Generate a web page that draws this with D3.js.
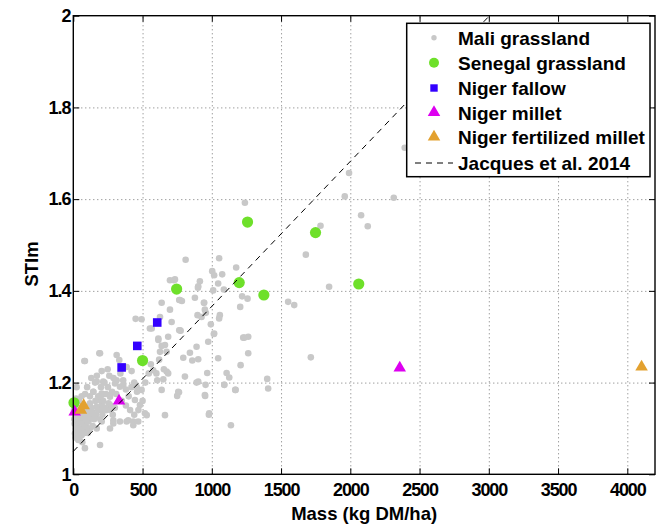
<!DOCTYPE html>
<html>
<head>
<meta charset="utf-8">
<script src="https://cdn.jsdelivr.net/npm/d3@7"></script>
<style>
body { margin: 0; background: #fff; }
text { font-family: "Liberation Sans", Arial, sans-serif; font-weight: bold; fill: #000; }
</style>
</head>
<body>
<div id="chart"></div>
<script>
const width = 665, height = 526;
const margin = {top: 15.7, right: 10, bottom: 51.7, left: 73.3};

const xTicks = [0, 500, 1000, 1500, 2000, 2500, 3000, 3500, 4000];
const yTicks = [1, 1.2, 1.4, 1.6, 1.8, 2];

// Mali grassland [mass, STIm]
const maliGrassland = [
  [193,1.264],[84,1.247],[313,1.26],[248,1.229],[421,1.225],[385,1.234],[626,1.267],[674,1.267],[577,1.227],[674,1.224],
  [606,1.205],[157,1.20],[216,1.202],[313,1.205],[361,1.195],[457,1.191],[493,1.184],[638,1.184],[24,1.19],[144,1.18],
  [205,1.176],[265,1.169],[193,1.162],[120,1.155],[265,1.151],[445,1.162],[481,1.151],[530,1.129],[662,1.129],[120,1.136],
  [205,1.14],[84,1.118],[157,1.125],[205,1.115],[289,1.118],[337,1.115],[397,1.118],[469,1.115],[24,1.107],[48,1.097],
  [12,1.089],[108,1.10],[169,1.10],[265,1.10],[36,1.078],[84,1.057],[193,1.064],
  [685,1.30],[775,1.313],[1015,1.306],[974,1.289],[1227,1.298],[1263,1.30],[638,1.28],[890,1.278],[842,1.265],[794,1.254],
  [859,1.248],[902,1.251],[1046,1.253],[1263,1.264],[1208,1.238],[654,1.229],[685,1.22],[806,1.213],[967,1.221],[1107,1.221],
  [1126,1.211],[650,1.207],[890,1.20],[955,1.195],[1090,1.195],[1400,1.208],[1407,1.187],[763,1.179],[750,1.171],[952,1.171],
  [1172,1.184],[979,1.13],[1138,1.107],
  [698,1.423],[727,1.423],[638,1.374],[765,1.38],[698,1.359],[450,1.339],[493,1.338],[626,1.343],[710,1.332],[566,1.318],
  [614,1.296],[765,1.314],
  [1239,1.592],[811,1.468],[1053,1.471],[914,1.421],[1003,1.443],[1017,1.434],[1075,1.436],[1176,1.451],[900,1.407],[1046,1.416],
  [1087,1.403],[1010,1.401],[1219,1.388],[1258,1.383],[878,1.385],[770,1.38],[784,1.378],[945,1.374],[950,1.359],[1205,1.365],
  [1551,1.376],[1595,1.369],[897,1.347],[926,1.343],[1058,1.347],[1053,1.34],[993,1.327],
  [2393,1.712],[1991,1.657],[1960,1.606],[2314,1.603],[1785,1.542],[2078,1.565],[2126,1.541],[1679,1.479],[1847,1.409],[1715,1.255],
  [1234,1.298],[1017,1.307],[614,1.293],[662,1.282],[770,1.314],
  [80,1.247],[188,1.264],[332,1.249],[553,1.318],[734,1.425],[902,1.41],[943,1.374],[957,1.352],
  [169,1.202],[301,1.198],[337,1.191],[205,1.173],[265,1.173],[205,1.151],[169,1.147],[84,1.10],[36,1.086],[36,1.075],
  [289,1.111],[385,1.115],[433,1.115],[433,1.107],[517,1.133],[758,1.18],[902,1.202],[950,1.173],[981,1.133],[1090,1.195],[1169,1.184],
  [5,1.14],[15,1.13],[25,1.12],[10,1.11],[30,1.105],[45,1.115],[60,1.125],[40,1.095],[20,1.10],[55,1.10],
  [70,1.11],[85,1.12],[100,1.13],[90,1.105],[110,1.115],[125,1.125],[140,1.135],[120,1.10],[150,1.12],[165,1.13],
  [180,1.14],[130,1.145],[95,1.14],[75,1.135],[50,1.145],[35,1.13],[15,1.08],[25,1.09],[60,1.085],[80,1.09],
  [105,1.09],[8,1.12],[45,1.075],[65,1.07],[140,1.105],[195,1.12],[210,1.13],[225,1.145],[240,1.14],[255,1.155],
  [270,1.14],[285,1.13],[300,1.145],[215,1.16],[235,1.175],[250,1.19],[280,1.18],[310,1.175],[160,1.16],[180,1.17],
  [145,1.18],[120,1.17],[200,1.19],[225,1.20],[40,1.16],[20,1.165],[60,1.17],[85,1.175],[100,1.19],[130,1.21],
  [170,1.215],[205,1.225],[260,1.215],[290,1.21],[340,1.22],[360,1.205],[380,1.185],[400,1.17],[420,1.19],[440,1.2],
  [460,1.18],[350,1.16],[380,1.15],[410,1.14],[440,1.13],[470,1.14],[500,1.16],[520,1.2],[545,1.22],[560,1.24],[600,1.22],[620,1.25]
];

const senegalGrassland = [[5,1.156],[500,1.248],[746,1.404],[1198,1.418],[1258,1.550],[1376,1.391],[1749,1.527],[2061,1.415]];
const nigerFallow = [[349,1.233],[462,1.280],[606,1.331]];
const nigerMillet = [[10,1.136],[330,1.160],[2357,1.232]];
const nigerFertMillet = [[55,1.140],[75,1.150],[4103,1.234]];
const jacquesMass = [0, 3005];
const jacquesSTIm = [1.05, 2.0];

const legendLabels = ["Mali grassland", "Senegal grassland", "Niger fallow", "Niger millet", "Niger fertilized millet", "Jacques et al. 2014"];

const colors = {mali: "#c8c8c8", senegal: "#6ee02a", fallow: "#3300ff", millet: "#dd00f0", fert: "#e3a12f"};

let svg = d3.select("#chart").append("svg")
    .attr("width", width)
    .attr("height", height);

let x = d3.scaleLinear().domain([0, 4200]).range([margin.left, width - margin.right]);
let y = d3.scaleLinear().domain([1, 2]).range([height - margin.bottom, margin.top]);

const x0 = x.range()[0], x1 = x.range()[1], y0 = y.range()[0], y1 = y.range()[1];

// dotted grid
svg.append("g")
    .attr("transform", `translate(0,${y0})`)
    .call(d3.axisBottom(x).tickValues(xTicks.slice(1)).tickSize(-(y0 - y1)).tickFormat(""))
    .call(g => g.select(".domain").remove())
    .selectAll("line").attr("stroke", "#777").attr("stroke-dasharray", "1,3");
svg.append("g")
    .attr("transform", `translate(${x0},0)`)
    .call(d3.axisLeft(y).tickValues(yTicks.slice(1, -1)).tickSize(-(x1 - x0)).tickFormat(""))
    .call(g => g.select(".domain").remove())
    .selectAll("line").attr("stroke", "#777").attr("stroke-dasharray", "1,3");

let plot = svg.append("g");

plot.selectAll(".mali").data(maliGrassland).enter()
    .append("circle")
    .attr("cx", d => x(d[0]))
    .attr("cy", d => y(d[1]))
    .attr("r", 3.3)
    .attr("fill", colors.mali);

plot.selectAll(".sen").data(senegalGrassland).enter()
    .append("circle")
    .attr("cx", d => x(d[0]))
    .attr("cy", d => y(d[1]))
    .attr("r", 5.6)
    .attr("fill", colors.senegal);

plot.selectAll(".fallow").data(nigerFallow).enter()
    .append("rect")
    .attr("x", d => x(d[0]) - 4.3)
    .attr("y", d => y(d[1]) - 4.3)
    .attr("width", 8.6)
    .attr("height", 8.6)
    .attr("fill", colors.fallow);

const tri = d3.symbol().type(d3.symbolTriangle).size(68);
plot.selectAll(".millet").data(nigerMillet).enter()
    .append("path")
    .attr("d", tri)
    .attr("transform", d => `translate(${x(d[0])},${y(d[1])})`)
    .attr("fill", colors.millet);

plot.selectAll(".fert").data(nigerFertMillet).enter()
    .append("path")
    .attr("d", tri)
    .attr("transform", d => `translate(${x(d[0])},${y(d[1])})`)
    .attr("fill", colors.fert);

plot.append("line")
    .attr("x1", x(jacquesMass[0])).attr("y1", y(jacquesSTIm[0]))
    .attr("x2", x(jacquesMass[1])).attr("y2", y(jacquesSTIm[1]))
    .attr("stroke", "#000")
    .attr("stroke-width", 1)
    .attr("stroke-dasharray", "6,5");

// axes box with inward ticks
svg.append("g")
    .attr("transform", `translate(0,${y0})`)
    .call(d3.axisBottom(x).tickValues(xTicks).tickSize(-6).tickPadding(9).tickFormat(d => d))
    .call(g => g.select(".domain").remove())
    .selectAll("text").style("font-size", "18px").style("letter-spacing", "-1.1px");
svg.append("g")
    .attr("transform", `translate(0,${y1})`)
    .call(d3.axisTop(x).tickValues(xTicks).tickSize(-6).tickFormat(""))
    .call(g => g.select(".domain").remove());
svg.append("g")
    .attr("transform", `translate(${x0},0)`)
    .call(d3.axisLeft(y).tickValues(yTicks).tickSize(-6).tickPadding(3).tickFormat(d => d))
    .call(g => g.select(".domain").remove())
    .selectAll("text").style("font-size", "18px").style("letter-spacing", "-1.1px");
svg.append("g")
    .attr("transform", `translate(${x1},0)`)
    .call(d3.axisRight(y).tickValues(yTicks).tickSize(-6).tickFormat(""))
    .call(g => g.select(".domain").remove());

svg.append("rect")
    .attr("x", x0).attr("y", y1)
    .attr("width", x1 - x0).attr("height", y0 - y1)
    .attr("fill", "none").attr("stroke", "#000").attr("stroke-width", 1.4);

svg.append("text")
    .attr("x", (x0 + x1) / 2)
    .attr("y", 520)
    .style("text-anchor", "middle")
    .style("font-size", "18.5px")
    .text("Mass (kg DM/ha)");

svg.append("text")
    .attr("transform", `translate(38, 264) rotate(-90)`)
    .style("text-anchor", "middle")
    .style("font-size", "18.5px")
    .text("STIm");

// legend
let legend = svg.append("g");
legend.append("rect")
    .attr("x", 406.7).attr("y", 23.3)
    .attr("width", 243.3).attr("height", 153.4)
    .attr("fill", "#fff").attr("stroke", "#000").attr("stroke-width", 1.5);

const rowY = [37.7, 62.7, 88, 112.5, 137, 163];
const mx = 434;
legendLabels.forEach(function(lbl, i) {
    legend.append("text")
        .attr("x", 458)
        .attr("y", rowY[i] + 7)
        .style("font-size", "19px")
        .text(lbl);
});
legend.append("circle").attr("cx", mx).attr("cy", rowY[0]).attr("r", 2.7).attr("fill", colors.mali);
legend.append("circle").attr("cx", mx).attr("cy", rowY[1]).attr("r", 5).attr("fill", colors.senegal);
legend.append("rect").attr("x", mx - 3.7).attr("y", rowY[2] - 3.7).attr("width", 7.4).attr("height", 7.4).attr("fill", colors.fallow);
legend.append("path").attr("d", tri).attr("transform", `translate(${mx},${rowY[3]})`).attr("fill", colors.millet);
legend.append("path").attr("d", tri).attr("transform", `translate(${mx},${rowY[4]})`).attr("fill", colors.fert);
legend.append("line")
    .attr("x1", 415).attr("x2", 453)
    .attr("y1", rowY[5]).attr("y2", rowY[5])
    .attr("stroke", "#000").attr("stroke-width", 1)
    .attr("stroke-dasharray", "6,5");
</script>
</body>
</html>
